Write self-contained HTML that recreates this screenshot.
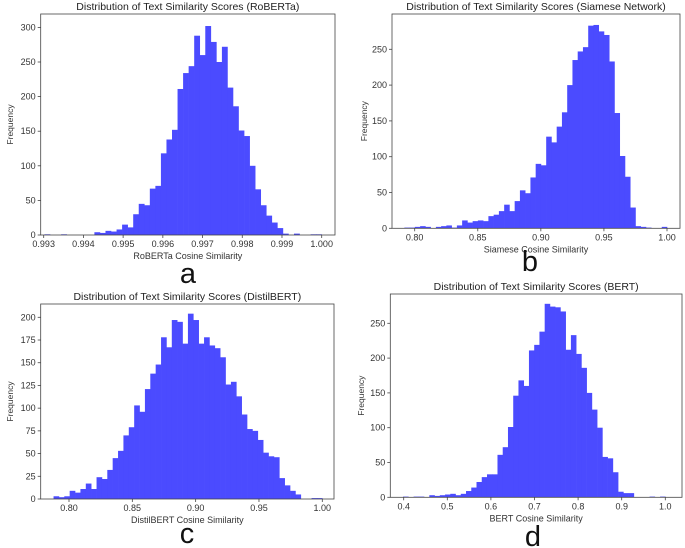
<!DOCTYPE html>
<html><head><meta charset="utf-8"><style>
html,body{margin:0;padding:0;background:#fff;}
svg{display:block;font-family:"Liberation Sans","DejaVu Sans",sans-serif;}
</style></head><body>
<svg id="fig" width="685" height="548" viewBox="0 0 685 548" xmlns="http://www.w3.org/2000/svg"></svg>
<script>
const aCounts=[1,0,0,1,0,0,0,0,0,4,3,6,5,8,15,11,30,45,43,67,71,118,138,152,211,234,244,288,260,302,279,250,272,213,186,151,143,100,66,43,28,18,10,2,0,2,0,0,1,1];
const aTicksX=[0.993,0.994,0.995,0.996,0.997,0.998,0.999,1.000];
const aTickLabelsX=["0.993","0.994","0.995","0.996","0.997","0.998","0.999","1.000"];
const aTicksY=[0,50,100,150,200,250,300];
const bCounts=[1,1,2,3,2,0,2,3,4,1,4,11,8,10,11,10,17,19,24,33,24,38,53,49,71,90,88,128,120,142,162,200,235,247,253,283,284,275,270,233,161,101,72,29,3,2,1,0,0,2];
const bTicksX=[0.80,0.85,0.90,0.95,1.00];
const bTickLabelsX=["0.80","0.85","0.90","0.95","1.00"];
const bTicksY=[0,50,100,150,200,250];
const cCounts=[3,2,3,9,7,11,17,11,24,22,32,45,53,70,79,103,96,121,138,148,178,167,197,195,171,204,197,171,178,169,166,156,126,129,113,93,77,75,65,51,47,46,23,15,9,5,0,0,1,1];
const cTicksX=[0.80,0.85,0.90,0.95,1.00];
const cTickLabelsX=["0.80","0.85","0.90","0.95","1.00"];
const cTicksY=[0,25,50,75,100,125,150,175,200];
const dCounts=[1,0,1,1,0,3,2,3,4,5,3,5,9,14,22,29,33,33,61,72,101,146,168,160,211,219,238,278,274,273,267,212,233,206,186,150,126,100,58,56,36,8,6,6,0,0,0,1,0,1];
const dTicksX=[0.4,0.5,0.6,0.7,0.8,0.9,1.0];
const dTickLabelsX=["0.4","0.5","0.6","0.7","0.8","0.9","1.0"];
const dTicksY=[0,50,100,150,200,250];

const NS="http://www.w3.org/2000/svg";
const svg=document.getElementById('fig');
function mk(tag,attrs,parent){const e=document.createElementNS(NS,tag);for(const k in attrs)e.setAttribute(k,attrs[k]);(parent||svg).appendChild(e);return e;}

function panel(o){
  const g=mk('g',{});
  
  
  // axis functions
  const sx=v=>o.px0+(v-o.vx0)*(o.px1-o.px0)/(o.vx1-o.vx0);
  const sy=v=>o.y0-v*o.ky;
  const n=o.counts.length;
  const bw=(o.binMax-o.binMin)/n;
  o.counts.forEach((c,i)=>{
    if(c<=0)return;
    const x0=sx(o.binMin+i*bw),x1=sx(o.binMin+(i+1)*bw);
    const r=mk('rect',{x:x0,y:sy(c),width:x1-x0+0.3,height:o.y0-sy(c),fill:'#4b4bff'},g);
    
    
  });
  const f=mk('rect',{x:o.L,y:o.T,width:o.R-o.L,height:o.B-o.T,fill:'none',stroke:'#444','stroke-width':0.8},g);
  
  
  o.ticksX.forEach((v,i)=>{
    const x=sx(v);
    mk('line',{x1:x,x2:x,y1:o.B,y2:o.B+3,stroke:'#444','stroke-width':0.8},g);
    const t=mk('text',{x:x,y:o.B+12,'font-size':9,'text-anchor':'middle',fill:'#333'},g);
    t.textContent=o.tickLabelsX[i];
    
    
  });
  o.ticksY.forEach(v=>{
    const y=sy(v);
    mk('line',{x1:o.L-3,x2:o.L,y1:y,y2:y,stroke:'#444','stroke-width':0.8},g);
    const t=mk('text',{x:o.L-5,y:y+3,'font-size':9,'text-anchor':'end',fill:'#333'},g);
    t.textContent=String(v);
    
    
  });
  const ti=mk('text',{x:(o.L+o.R)/2,y:o.T-4,'font-size':10.5,'text-anchor':'middle',fill:'#222'},g);
  ti.textContent=o.title;
  
  
  const xl=mk('text',{x:(o.L+o.R)/2,y:o.B+24,'font-size':9,'text-anchor':'middle',fill:'#333'},g);
  xl.textContent=o.xlabel;
  
  
  const yl=mk('text',{x:0,y:0,'font-size':8.5,'text-anchor':'middle',fill:'#333',transform:`translate(${o.ylx},${(o.T+o.B)/2}) rotate(-90)`},g);
  yl.textContent='Frequency';
  
  
  const lt=mk('text',{x:o.letX,y:o.letY,'font-size':29,'text-anchor':'middle',fill:'#111'},g);
  lt.textContent=o.letter;
  
  
}

panel({id:'roberta',counts:aCounts,ticksX:aTicksX,tickLabelsX:aTickLabelsX,ticksY:aTicksY,
  L:40.7,R:335,T:14,B:235,y0:235,ky:0.692,px0:43.7,px1:321.7,vx0:0.993,vx1:1.0,binMin:0.99302,binMax:1.0,
  title:'Distribution of Text Similarity Scores (RoBERTa)',xlabel:'RoBERTa Cosine Similarity',ylx:13,letter:'a',letX:188,letY:283});
panel({id:'siamese',counts:bCounts,ticksX:bTicksX,tickLabelsX:bTickLabelsX,ticksY:bTicksY,
  L:392,R:680,T:14,B:228.3,y0:228.3,ky:0.716,px0:414.7,px1:667,vx0:0.8,vx1:1.0,binMin:0.7918,binMax:1.0,
  title:'Distribution of Text Similarity Scores (Siamese Network)',xlabel:'Siamese Cosine Similarity',ylx:367,letter:'b',letY:271,letX:530});
panel({id:'distilbert',counts:cCounts,ticksX:cTicksX,tickLabelsX:cTickLabelsX,ticksY:cTicksY,
  L:40.7,R:334,T:304,B:499,y0:499,ky:0.9085,px0:69,px1:322.3,vx0:0.8,vx1:1.0,binMin:0.7878,binMax:1.0,
  title:'Distribution of Text Similarity Scores (DistilBERT)',xlabel:'DistilBERT Cosine Similarity',ylx:13,letter:'c',letX:187,letY:543});
panel({id:'bert',counts:dCounts,ticksX:dTicksX,tickLabelsX:dTickLabelsX,ticksY:dTicksY,
  L:390.3,R:682,T:294,B:497.3,y0:497.3,ky:0.696,px0:403.7,px1:665.3,vx0:0.4,vx1:1.0,binMin:0.3986,binMax:1.0,
  title:'Distribution of Text Similarity Scores (BERT)',xlabel:'BERT Cosine Similarity',ylx:364,letter:'d',letX:533,letY:546});
</script>
</body></html>
